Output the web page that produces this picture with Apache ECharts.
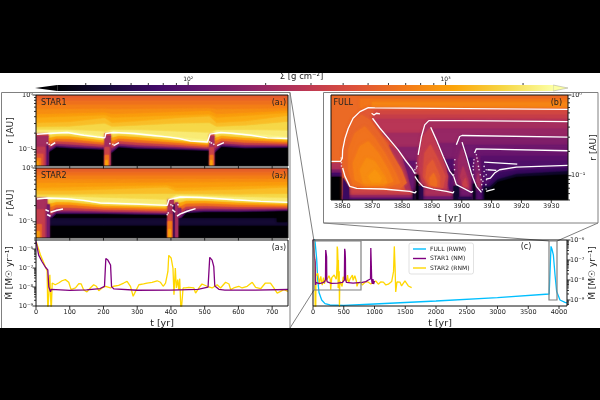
<!DOCTYPE html>
<html>
<head>
<meta charset="utf-8">
<style>html,body{margin:0;padding:0;background:#000}#c{width:600px;height:400px}</style>
<script src="https://cdn.jsdelivr.net/npm/echarts@6/dist/echarts.min.js"></script>
</head>
<body>
<div id="c"></div>
<script>
// Disc surface density maps and accretion histories. Radii are stored as
// depth = -log10(r / AU), accretion rates as log10(Mdot / Msun per yr).
const FLOOR = 1.30103;           // depth of r = 0.05 AU
const SIGMA_LO = 31, SIGMA_HI = 2620;

// ---- STAR1 surface density contours: [sigma, [[t, depth], ...]] ----
const a1Upper = [
  [560, [[0,.055],[747,.055]]],
  [640, [[0,.11],[747,.11]]],
  [740, [[0,.184],[747,.184]]],
  [860, [[0,.27],[204,.26],[225,.27],[514,.25],[535,.27],[747,.25]]],
  [1000,[[0,.36],[204,.33],[225,.36],[514,.30],[535,.36],[747,.30]]],
  [1150,[[0,.424],[204,.38],[225,.424],[514,.36],[535,.424],[747,.34]]],
  [1350,[[0,.52],[100,.505],[204,.43],[225,.52],[300,.49],[420,.43],[514,.40],[535,.52],[620,.49],[747,.39]]],
  [1700,[[0,.595],[100,.587],[204,.53],[225,.59],[300,.57],[420,.53],[514,.52],[535,.59],[620,.57],[747,.50]]],
  [2100,[[0,.645],[100,.645],[204,.68],[225,.645],[300,.65],[420,.68],[514,.70],[535,.65],[620,.65],[747,.66]]],
  [2400,[[0,.69],[100,.67],[204,.77],[225,.675],[300,.69],[420,.78],[514,.84],[535,.675],[620,.71],[747,.78]]]
];
const a1LowerTimes = [0,36,60,100,204,206,225,245,300,420,514,516,530,550,620,747];
const a1Lower = [
  [1700,[.74,.74,.72,.72,.81,.74,.73,.71,.74,.81,.88,.75,.74,.71,.75,.82]],
  [1100,[.795,.795,.764,.764,.844,.783,.788,.757,.78,.847,.902,.797,.792,.755,.792,.84]],
  [650, [.858,.858,.81,.814,.882,.834,.851,.805,.829,.884,.932,.849,.854,.801,.836,.873]],
  [350, [.923,.923,.858,.867,.923,.889,.919,.854,.88,.924,.963,.906,.921,.849,.882,.904]],
  [170, [.985,.985,.904,.917,.961,.943,.981,.902,.928,.961,.993,.959,.983,.895,.926,.935]],
  [80,  [1.031,1.031,.939,.958,.991,.982,1.031,.939,.967,.991,1.013,1.0,1.031,.93,.958,.958]],
  [31,  [1.068,1.068,.967,.985,1.013,1.013,1.068,.967,.994,1.013,1.031,1.031,1.068,.958,.985,.976]]
];
// outburst columns: [sigma, t0, t1, depth0, depth1]
const a1Columns = [
  [420,0,36,.709,.773],[215,0,36,.755,1.302],[95,32,36,.93,1.302],[300,0,26,.958,1.302],[450,0,21,1.087,1.302],[720,0,14,1.16,1.302],[1000,0,7,1.215,1.302],
  [420,204,221,.705,.76],[215,204,221,.75,1.302],[350,204,217,.958,1.302],[650,205,215,1.105,1.302],[1050,206,212,1.197,1.302],
  [420,515,528,.718,.77],[215,515,528,.76,1.302],[350,515,526,.958,1.302],[650,516,525,1.105,1.302],[1050,517,522,1.197,1.302]
];
const a1White = [[3,.718],[36,.705],[92,.687],[142,.737],[181,.768],[204,.786],[207,.705],[230,.687],[290,.705],[340,.737],[389,.768],[424,.797],[458,.842],[508,.86],[516,.718],[548,.687],[587,.705],[637,.737],[686,.786],[747,.797]];
const a1Dashes = [
  [[43,.927],[57,.872]], [[230,.927],[246,.872]], [[537,.927],[557,.872]]
];
const a1Dots = [[33,.878],[39,.903],[219,.89],[228,.903],[515,.859],[520,.88],[527,.903]];

// ---- STAR2 surface density contours ----
const a2Upper = [
  [560, [[0,.046],[747,.046]]],
  [640, [[0,.092],[747,.092]]],
  [740, [[0,.147],[747,.147]]],
  [860, [[0,.22],[747,.21]]],
  [1000,[[0,.29],[747,.27]]],
  [1150,[[0,.38],[389,.33],[415,.38],[747,.33]]],
  [1350,[[0,.43],[100,.43],[389,.37],[415,.44],[600,.41],[747,.37]]],
  [1700,[[0,.50],[100,.50],[389,.49],[415,.49],[600,.50],[747,.49]]],
  [2100,[[0,.54],[100,.54],[389,.60],[415,.515],[600,.545],[747,.565]]],
  [2400,[[0,.565],[92,.56],[191,.635],[389,.68],[394,.575],[428,.527],[488,.533],[587,.575],[666,.607],[747,.625]]]
];
const a2LowerTimes = [0,40,60,100,200,389,394,425,445,500,600,747];
const a2Lower = [
  [1700,[.604,.604,.595,.60,.676,.713,.619,.586,.573,.576,.613,.656]],
  [1100,[.669,.669,.641,.645,.707,.742,.663,.654,.619,.619,.65,.681]],
  [650, [.742,.742,.691,.694,.742,.773,.713,.731,.67,.663,.691,.711]],
  [350, [.821,.821,.746,.748,.781,.808,.766,.812,.726,.716,.733,.742]],
  [170, [.895,.895,.797,.797,.818,.84,.816,.889,.777,.764,.773,.772]],
  [80,  [.95,.95,.836,.836,.845,.866,.855,.948,.816,.801,.805,.794]],
  [31,  [.994,.994,.866,.866,.866,.884,.884,.994,.847,.829,.829,.81]],
  [46,  [.94,.94,.94,.94,.94,.94,.94,.94,.94,.94,.94,.94]],
  [31,  [1.087,1.087,1.087,1.087,1.087,1.087,1.087,1.087,1.087,1.087,1.087,1.087]]
];
const a2Columns = [
  [31,715,745,.83,.995],
  [230,0,33,.562,1.302],[130,33,40,.681,1.302],[320,0,25,.773,1.302],[550,0,16,1.05,1.302],[1000,2,10,1.179,1.302],
  [240,391,408,.589,1.302],[350,391,405,.866,1.302],[700,391,403,.994,1.302],[1050,393,399,1.142,1.302],
  [60,408,413,.681,1.302],[220,413,421,.645,1.302],[150,421,430,.75,.9]
];
const a2White = [[3,.577],[33,.558],[92,.571],[141,.602],[191,.65],[290,.669],[389,.694],[394,.589],[428,.54],[488,.547],[587,.589],[666,.62],[747,.639]];
const a2Dashes = [
  [[43,.822],[62,.785],[80,.761]], [[28,.773],[38,.804]], [[33,.865],[43,.896]],
  [[418,.896],[428,.853],[448,.804],[473,.755]], [[404,.773],[413,.822]]
];
const a2Dots = [[400,.681],[405,.70],[421,.681],[389,.865],[392,.835]];

// ---- FULL surface density layers, painted in order ----
const bLayers = [
  [590,[[3856.2,0],[3935.6,0],[3935.6,FLOOR],[3856.2,FLOOR]]],
  [680,[[3866,.05],[3935.6,.05],[3935.6,.16],[3866,.16]]],
  [790,[[3870,.09],[3935.6,.09],[3935.6,.16],[3870,.16]]],
  [260,[[3856.2,.844],[3860.3,.844],[3860.3,FLOOR],[3856.2,FLOOR]]],
  [160,[[3856.2,.926],[3860.3,.926],[3860.3,FLOOR],[3856.2,FLOOR]]],
  [80, [[3856.2,.967],[3860.3,.967],[3860.3,FLOOR],[3856.2,FLOOR]]],
  [31, [[3856.2,1.016],[3860.3,1.016],[3860.3,FLOOR],[3856.2,FLOOR]]],
  [480,[[3860,.782],[3860.1,.679],[3860.9,.535],[3862,.412],[3863.6,.288],[3865.9,.206],[3868.7,.156],[3870.9,.16],[3890.4,.165],[3935.6,.177],[3935.6,FLOOR],[3860,FLOOR]]],
  // wedge right of the first cooling front
  [390,[[3870.9,.193],[3935.6,.193],[3935.6,FLOOR],[3884.8,FLOOR],[3884.3,.975],[3881,.802],[3878.7,.679],[3875.9,.556],[3872.6,.412],[3870.1,.288]]],
  [330,[[3870.5,.247],[3935.6,.247],[3935.6,FLOOR],[3884.8,FLOOR],[3884.3,.975],[3881,.802],[3878.7,.679],[3875.9,.556],[3872.6,.412],[3870.1,.288]]],
  [275,[[3871,.30],[3935.6,.30],[3935.6,FLOOR],[3884.8,FLOOR],[3884.3,.975],[3881,.802],[3878.7,.679],[3875.9,.556],[3872.6,.412]]],
  [215,[[3873.4,.473],[3935.6,.473],[3935.6,FLOOR],[3884.8,FLOOR],[3884.3,.975],[3881,.802],[3878.7,.679],[3875.9,.556]]],
  [160,[[3878,.65],[3935.6,.65],[3935.6,FLOOR],[3884.8,FLOOR],[3884.3,.975],[3881,.802],[3878.7,.679]]],
  [110,[[3881.2,.82],[3935.6,.82],[3935.6,FLOOR],[3884.8,FLOOR],[3884.3,.975]]],
  [60, [[3884.3,.975],[3935.6,.99],[3935.6,FLOOR],[3884.8,FLOOR]]],
  // first hot region
  [250,[[3875.7,.617],[3879.3,.72],[3884.3,.975],[3884.6,1.193],[3881.5,1.193],[3878.7,.926]]],
  [120,[[3880.3,.79],[3884.3,.975],[3884.6,1.193],[3883.4,1.193],[3881.9,.967]]],
  [560,[[3860.9,.535],[3863.6,.309],[3866.4,.247],[3869.2,.309],[3873.1,.514],[3876.5,.72],[3879.8,.926],[3881.5,1.091],[3879.3,1.152],[3868.1,1.165],[3862.5,1.14],[3860.9,1.008],[3860.1,.844]]],
  [650,[[3862,.679],[3864.2,.473],[3867.5,.391],[3870.9,.535],[3874.2,.72],[3877.6,.947],[3879.3,1.091],[3874.8,1.14],[3868.1,1.14],[3863.6,1.111],[3862,.926]]],
  [750,[[3863.6,.844],[3865.9,.638],[3868.7,.576],[3872,.72],[3875.3,.926],[3877,1.07],[3873.7,1.123],[3867.5,1.123],[3864.2,1.049]]],
  [840,[[3865.9,.926],[3868.1,.782],[3870.9,.823],[3874.2,1.008],[3875,1.091],[3870.9,1.111],[3867,1.091]]],
  [920,[[3868.7,1.008],[3870.9,.926],[3873.1,1.029],[3872.6,1.082],[3869.8,1.082]]],
  [350,[[3862.5,1.175],[3884.6,1.2],[3884.6,FLOOR],[3862.5,FLOOR]]],
  [200,[[3860.3,1.245],[3884.6,1.245],[3884.6,FLOOR],[3860.3,FLOOR]]],
  [100,[[3860.3,1.275],[3884.6,1.275],[3884.6,FLOOR],[3860.3,FLOOR]]],
  [70, [[3860.3,1.03],[3862.2,1.15],[3862.2,FLOOR],[3860.3,FLOOR]]],
  [45, [[3883.7,1.19],[3885.4,1.19],[3885.4,FLOOR],[3883.7,FLOOR]]],
  // second burst
  [225,[[3885.4,.741],[3886.5,.514],[3887.6,.37],[3889,.317],[3901.6,.317],[3935.6,.329],[3935.6,FLOOR],[3884.8,FLOOR],[3884.8,.905]]],
  [190,[[3890.4,.42],[3935.6,.42],[3935.6,FLOOR],[3897.3,FLOOR],[3897.3,1.008],[3896,.947],[3893.8,.761],[3891.5,.556]]],
  [145,[[3892.2,.6],[3935.6,.6],[3935.6,FLOOR],[3897.3,FLOOR],[3897.3,1.008],[3896,.947],[3893.8,.761]]],
  [90, [[3893.8,.8],[3935.6,.8],[3935.6,FLOOR],[3897.3,FLOOR],[3897.3,1.008],[3895,.85]]],
  [40, [[3896,.947],[3935.6,.96],[3935.6,FLOOR],[3897.3,FLOOR],[3897.3,1.008]]],
  [100,[[3895.4,.885],[3897.3,1.008],[3897.3,1.214],[3896,1.193],[3894.9,1.008]]],
  [300,[[3887,.514],[3889.3,.412],[3891,.576],[3893.7,.802],[3895.4,1.008],[3894.9,1.165],[3887.6,1.132],[3885.9,1.008],[3885.7,.802]]],
  [400,[[3887.6,.72],[3889.5,.617],[3892.1,.802],[3894.5,1.008],[3893.7,1.152],[3888.7,1.132],[3887,1.008]]],
  [490,[[3888.4,.885],[3890.2,.802],[3892.6,1.008],[3892.6,1.14],[3889.3,1.123],[3887.9,1.029]]],
  [620,[[3889.3,1.029],[3890.6,.967],[3891.7,1.07],[3891.5,1.132],[3889.5,1.111]]],
  [240,[[3886.5,1.2],[3897.3,1.2],[3897.3,FLOOR],[3886.5,FLOOR]]],
  [120,[[3886.5,1.26],[3897.3,1.26],[3897.3,FLOOR],[3886.5,FLOOR]]],
  [60, [[3884.8,1.13],[3887,1.13],[3887,FLOOR],[3884.8,FLOOR]]],
  [35, [[3884.8,.99],[3885.4,.99],[3885.4,FLOOR],[3884.8,FLOOR]]],
  // third burst
  [150,[[3897.6,.926],[3897.6,.802],[3898.2,.617],[3899.3,.514],[3900.1,.502],[3935.6,.523],[3935.6,FLOOR],[3897.3,FLOOR]]],
  [125,[[3900.6,.62],[3935.6,.62],[3935.6,FLOOR],[3903.8,FLOOR],[3903.8,1.029],[3903.2,.967],[3901.6,.761]]],
  [85, [[3901.4,.78],[3935.6,.78],[3935.6,FLOOR],[3903.8,FLOOR],[3903.8,1.029],[3903.2,.967]]],
  [45, [[3903.2,.967],[3935.6,.97],[3935.6,FLOOR],[3903.8,FLOOR],[3903.8,1.029]]],
  [190,[[3898.8,.802],[3900.1,.658],[3901.6,.823],[3903,1.008],[3903.2,1.181],[3900.4,1.152],[3898.8,1.091]]],
  [260,[[3899.5,1.008],[3900.4,.885],[3902.1,1.049],[3902.3,1.165],[3900.4,1.132]]],
  [340,[[3900.2,1.111],[3901.2,1.029],[3901.9,1.132],[3901,1.14]]],
  [130,[[3899,1.19],[3903.8,1.19],[3903.8,FLOOR],[3899,FLOOR]]],
  [45, [[3897.3,1.13],[3899,1.13],[3899,FLOOR],[3897.3,FLOOR]]],
  [60, [[3899,1.265],[3903.8,1.265],[3903.8,FLOOR],[3899,FLOOR]]],
  // fourth burst and the quiescent tail
  [118,[[3903.8,.967],[3904,.802],[3904.3,.72],[3904.9,.667],[3935.6,.691],[3935.6,FLOOR],[3903.6,FLOOR]]],
  [100,[[3906.5,.76],[3935.6,.76],[3935.6,FLOOR],[3906.5,FLOOR]]],
  [88, [[3907,.82],[3935.6,.82],[3935.6,FLOOR],[3907,FLOOR]]],
  [150,[[3904.6,.926],[3905.1,.761],[3906,.926],[3906.9,1.173],[3904.9,1.152]]],
  [220,[[3904.9,1.091],[3905.5,.967],[3906.3,1.132],[3905.5,1.14]]],
  [90, [[3904.5,1.2],[3907,1.2],[3907,FLOOR],[3904.5,FLOOR]]],
  [40, [[3903.8,1.1],[3904.5,1.1],[3904.5,FLOOR],[3903.8,FLOOR]]],
  [70, [[3907,1.111],[3908.8,1.111],[3911,1.0],[3912.7,.967],[3918.3,.934],[3935.6,.905],[3935.6,FLOOR],[3907,FLOOR]]],
  [45, [[3907.5,1.14],[3909.4,1.14],[3912.1,1.049],[3918.3,.984],[3935.6,.947],[3935.6,FLOOR],[3907.5,FLOOR]]],
  [31, [[3907.8,1.181],[3909.4,1.181],[3912.1,1.082],[3918.3,1.02],[3935.6,.988],[3935.6,FLOOR],[3907.8,FLOOR]]]
];
const bFronts = [
  [[3856.2,.823],[3859.4,.823],[3860,.782],[3860.1,.679],[3860.9,.535],[3862,.412],[3863.6,.288],[3865.9,.206],[3868.7,.156],[3870.9,.16],[3890.4,.165],[3935.6,.177]],
  [[3870.1,.288],[3872.6,.412],[3875.9,.556],[3878.7,.679],[3881,.802],[3883.2,.905],[3884.3,.975]],
  [[3869.8,.226],[3870.6,.247],[3871.4,.226],[3872.6,.235]],
  [[3860.1,.905],[3860.9,1.008],[3862.5,1.132],[3864.8,1.156],[3873.7,1.165],[3882.6,1.193],[3884.3,1.214],[3884.8,1.193]],
  [[3885.4,.741],[3886.5,.514],[3887.6,.37],[3889,.317],[3901.6,.317],[3935.6,.329]],
  [[3889.6,.399],[3891.5,.556],[3893.8,.761],[3896,.947],[3897.3,1.008]],
  [[3884.3,1.008],[3885.4,1.07],[3887,1.132],[3890.4,1.165],[3894.9,1.193],[3897.1,1.214],[3897.4,1.193]],
  [[3898.2,.617],[3899.3,.514],[3900.1,.502],[3935.6,.523]],
  [[3900.1,.584],[3901.6,.761],[3903.2,.967],[3903.8,1.029]],
  [[3897.3,1.008],[3898.2,1.111],[3900.4,1.152],[3903.2,1.206],[3903.8,1.193]],
  [[3904.3,.72],[3904.9,.667],[3935.6,.691]],
  [[3903.8,1.029],[3904.9,1.132],[3906.6,1.206]],
  [[3907.5,.831],[3918.6,.856]],
  [[3908.6,.926],[3911.6,.934]],
  [[3908.2,1.041],[3909.6,1.029],[3911,.967],[3912.7,.926],[3918.3,.893],[3935.6,.872]],
  [[3908.2,1.193],[3909.4,1.181],[3911,1.165]]
];
const bDots = [
  [3859.6,.78],[3859.7,.84],[3859.7,.88],
  [3884.8,.844],[3884.8,.905],[3884.3,.926],[3885,.885],[3884.6,.967],
  [3897.6,.926],[3897.5,.864],[3897.7,.802],[3897.3,.988],
  [3903.8,.885],[3904,.844],[3904.1,.802],[3903.9,.926],[3903.8,.988],
  [3904.9,.741],[3905.1,.782],[3905.4,.823],[3905.6,.885],[3905.8,.926],[3906.2,.988],[3906.5,1.049],[3906.7,1.111],[3906.9,1.173],
  [3907.5,.885],[3907.5,.947],[3907.4,1.008],[3907.1,1.07],
  [3908.2,.926],[3908.2,.988],[3908.3,1.049],[3908.1,1.111],[3908.2,1.165]
];

// ---- accretion histories: [t, log10 Mdot] ----
const star1Early = [[0,-5.6],[8,-6.32],[18,-6.67],[28,-6.96],[35,-7.1],[38,-8],[43,-8.25],[45,-8.12],[50,-8.16],[100,-8.18],[150,-8.15],[190,-8.08],[203,-7.97],[207,-6.5],[213,-6.58],[221,-6.84],[224,-7.98],[231,-8.1],[235,-8.16],[300,-8.17],[400,-8.16],[480,-8.12],[510,-8],[512,-8],[515,-6.44],[522,-6.58],[527,-6.93],[530,-7.95],[542,-8.12],[560,-8.16],[650,-8.16],[747,-8.13]];
const star1Late = [[800,-8.12],[860,-8.08],[900,-8],[935,-7.95],[940,-6.4],[947,-6.5],[955,-8.05],[965,-8.2],[975,-7.95],[985,-8.2],[1000,-8.05]];
const star2Early = [[1,-5.63],[13,-6.3],[33,-7.16],[35,-9.4],[37,-9.4],[41,-7.35],[45,-9.4],[46.5,-9.4],[48,-7.79],[57,-7.88],[67,-7.79],[77,-7.67],[87,-7.61],[97,-7.75],[104,-8.14],[117,-8.05],[127,-7.82],[134,-7.84],[141,-8.14],[151,-8.26],[161,-8.05],[171,-7.88],[179,-7.96],[186,-8.19],[196,-8.05],[206,-7.96],[211,-8.05],[221,-8.05],[230,-7.96],[245,-7.91],[260,-7.79],[270,-7.7],[280,-7.96],[288,-8.49],[295,-8.23],[305,-7.88],[319,-7.84],[329,-7.79],[344,-7.75],[359,-7.67],[369,-7.75],[377,-7.96],[384,-7.79],[389,-7.88],[391,-7.18],[393.5,-6.33],[400.5,-6.47],[406,-7],[409,-8.4],[413,-7],[416,-8.05],[420,-7.61],[423,-8.14],[426,-7.56],[430,-9.4],[435,-9.4],[436,-8.05],[443,-8.05],[453,-8.02],[468,-8.05],[473,-8.32],[483,-8.05],[492,-7.84],[507,-7.96],[522,-8.05],[537,-7.88],[547,-8.05],[562,-7.75],[572,-7.84],[577,-8.14],[586,-8.05],[601,-7.96],[611,-8.05],[626,-7.96],[641,-7.75],[651,-8.02],[666,-8.09],[680,-7.79],[695,-7.79],[705,-8.05],[715,-8.32],[725,-8.23],[735,-8.14],[747,-8.23]];
const star2Late = [[775,-8.1],[800,-8.25],[818,-8.21],[860,-8.08],[900,-8.11],[940,-8.2],[981,-8.11],[1020,-8.05],[1062,-8.21],[1100,-8.1],[1144,-8.11],[1185,-8.25],[1225,-8.21],[1279,-8.08],[1310,-7.57],[1322,-6.32],[1335,-7.4],[1345,-8.6],[1365,-8.1],[1415,-8.11],[1440,-8.3],[1469,-8.24],[1495,-8.05],[1523,-8.11],[1550,-8.3],[1577,-8.21],[1604,-8.38]];
const fullHistory = [[8,-5.9],[32,-6.03],[60,-6.95],[76,-7.96],[98,-8.63],[141,-9],[195,-9.18],[276,-9.25],[500,-9.27],[1000,-9.2],[2000,-9.05],[3000,-8.88],[3840,-8.7],[3866,-8.68],[3870,-6.32],[3885,-6.45],[3908,-6.74],[3935,-7.74],[3962,-8.58],[4016,-9],[4098,-9.12],[4130,-9.15]];

// ---- axis ticks ----
const rMajor = [.1,1], rMinor = [.05,.06,.07,.08,.09,.2,.3,.4,.5,.6,.7,.8,.9];
const mMajor = [1e-9,1e-8,1e-7,1e-6];
const mMinor = [6e-10,7e-10,8e-10,9e-10,2e-9,3e-9,4e-9,5e-9,6e-9,7e-9,8e-9,9e-9,2e-8,3e-8,4e-8,5e-8,6e-8,7e-8,8e-8,9e-8,2e-7,3e-7,4e-7,5e-7,6e-7,7e-7,8e-7,9e-7,2e-6,3e-6];
const xTicksA = [0,100,200,300,400,500,600,700];
const xTicksB = [3860,3870,3880,3890,3900,3910,3920,3930];
const xTicksC = [0,500,1000,1500,2000,2500,3000,3500,4000];
const sigmaMajor = [100,1000];
const sigmaMinor = [40,50,60,70,80,90,200,300,400,500,600,700,800,900,2000];

// ---- inferno colour map ----
const inferno = ['#000004','#160b39','#420a68','#6a176e','#932667','#bc3754','#dd513a','#f37819','#fca50a','#f6d746','#fcffa4'];
function sigmaColor(s){
  const v = Math.log(s/SIGMA_LO)/Math.log(SIGMA_HI/SIGMA_LO);
  return echarts.color.lerp(Math.min(1,Math.max(0,v)), inferno);
}
const depthToR = d => Math.pow(10,-d);

function under(pts){
  return pts.concat([[pts[pts.length-1][0],FLOOR],[pts[0][0],FLOOR]]);
}
function box(c){ return [c[0],[[c[1],c[3]],[c[2],c[3]],[c[2],c[4]],[c[1],c[4]]]]; }
function panelLayers(base, upper, lowerTimes, lower, columns){
  const full = [[base,[[0,0],[747,0],[747,FLOOR],[0,FLOOR]]]];
  upper.forEach(l=>full.push([l[0],under(l[1])]));
  lower.forEach(l=>full.push([l[0],under(lowerTimes.map((t,i)=>[t,l[1][i]]))]));
  columns.forEach(c=>full.push(box(c)));
  return full;
}

// soft polygon edges turn the stepped contour layers into a continuous field
function fieldSeries(g, layers, soft){
  return {
    type:'custom', coordinateSystem:'cartesian2d', xAxisIndex:g, yAxisIndex:g, clip:true, silent:true, z:2,
    data: layers.map((l,i)=>[l[1][0][0],depthToR(l[1][0][1]),i]),
    encode:{x:0,y:1},
    renderItem(params,api){
      const layer = layers[api.value(2)], c = sigmaColor(layer[0]);
      return {type:'polygon',shape:{points:layer[1].map(p=>api.coord([p[0],depthToR(p[1])]))},
        style:{fill:c,stroke:c,lineWidth:0.4,shadowBlur:soft,shadowColor:c}};
    }
  };
}
function whiteLine(g, pts, width){
  return {type:'line',xAxisIndex:g,yAxisIndex:g,silent:true,z:5,symbol:'none',clip:true,
    lineStyle:{color:'#fff',width:width||1.3},data:pts.map(p=>[p[0],depthToR(p[1])])};
}
function whiteDots(g, pts, size){
  return {type:'scatter',xAxisIndex:g,yAxisIndex:g,silent:true,z:5,symbolSize:size||1.5,clip:true,
    itemStyle:{color:'#fff'},data:pts.map(p=>[p[0],depthToR(p[1])])};
}
function rateLine(g, name, color, pts, width, z){
  return {type:'line',name,xAxisIndex:g,yAxisIndex:g,silent:true,z,symbol:'none',clip:true,
    lineStyle:{color,width:width},itemStyle:{color},data:pts.map(p=>[p[0],Math.pow(10,p[1])])};
}
// ticks are drawn through the axis scales so log axes get true minor positions
function tickSeries(g, dir, values, edge, sign, len){
  return {
    type:'custom', coordinateSystem:'cartesian2d', xAxisIndex:g, yAxisIndex:g, clip:false, silent:true, z:8,
    data: values.map(v=>dir==='y'?[edge,v]:[v,edge]), encode:{x:0,y:1},
    renderItem(params,api){
      const p = api.coord([api.value(0),api.value(1)]);
      const q = dir==='y'?[p[0]+sign*len,p[1]]:[p[0],p[1]+sign*len];
      return {type:'line',shape:{x1:p[0],y1:p[1],x2:q[0],y2:q[1]},style:{stroke:'#000',lineWidth:0.8}};
    }
  };
}

const sup = n => String(n).replace('-','⁻').replace(/\d/g,d=>'⁰¹²³⁴⁵⁶⁷⁸⁹'[d]);
function decadeLabel(v){
  const e = Math.log10(v), r = Math.round(e);
  return Math.abs(e-r)<1e-6 ? '10'+sup(r) : '';
}
const FONT = 'DejaVu Sans';
const tickLabel = {fontFamily:FONT,fontSize:6.5,color:'#222',margin:3,showMinLabel:true,showMaxLabel:true};
const panelGrids = [
  {left:36,top:95,width:252,height:71},
  {left:36,top:168,width:252,height:70},
  {left:36,top:240,width:252,height:66},
  {left:331,top:95,width:237,height:105},
  {left:313,top:240,width:254,height:66},
  {left:35,top:85,width:533,height:6}
];
function xAxisFor(g,min,max,opts){
  return Object.assign({type:'value',gridIndex:g,min,max,axisLine:{show:false},axisTick:{show:false},splitLine:{show:false},
    axisLabel:{show:false}},opts||{});
}
function yLog(g,min,max,pos,name,gap){
  return {type:'log',logBase:10,gridIndex:g,min,max,position:pos,axisLine:{show:false},axisTick:{show:false},splitLine:{show:false},
    axisLabel:Object.assign({},tickLabel,{formatter:decadeLabel}),
    name,nameLocation:'middle',nameRotate:90,nameGap:gap,nameMoveOverlap:false,nameTextStyle:{fontFamily:FONT,fontSize:9,color:'#222'}};
}
const xName = {nameLocation:'middle',nameMoveOverlap:false,nameTextStyle:{fontFamily:FONT,fontSize:9.5,color:'#222'}};
const keepTens = v => (Math.abs(v%10)<1e-6 && v>3856.5 && v<3935) ? String(Math.round(v)) : '';
const keepHundreds = v => (v%100===0 && v<=700) ? String(v) : '';

const xAxes = [
  xAxisFor(0,0,747),
  xAxisFor(1,0,747),
  xAxisFor(2,0,747,Object.assign({interval:100,name:'t [yr]',nameGap:13,axisLabel:Object.assign({},tickLabel,{show:true,formatter:keepHundreds,showMaxLabel:false})},xName)),
  xAxisFor(3,3856.2,3935.6,Object.assign({splitNumber:8,name:'t [yr]',nameGap:14,axisLabel:Object.assign({},tickLabel,{show:true,formatter:keepTens})},xName)),
  xAxisFor(4,0,4130,Object.assign({interval:500,name:'t [yr]',nameGap:13,axisLabel:Object.assign({},tickLabel,{show:true,formatter:v=>v<=4000?String(v):'',showMaxLabel:false})},xName)),
  {type:'log',logBase:10,gridIndex:5,min:25.4,max:2990,position:'top',axisLine:{show:false},axisTick:{show:false},splitLine:{show:false},
    axisLabel:Object.assign({},tickLabel,{margin:3,fontSize:6,formatter:decadeLabel}),
    name:'Σ [g cm⁻²]',nameLocation:'middle',nameGap:4,nameMoveOverlap:false,nameTextStyle:{fontFamily:FONT,fontSize:8.5,color:'#222'}}
];
const yAxes = [
  yLog(0,.05,1,'left','r [AU]',21),
  yLog(1,.05,1,'left','r [AU]',21),
  yLog(2,1e-9,3e-6,'left','Ṁ [M☉ yr⁻¹]',22),
  yLog(3,.05,1,'right','r [AU]',21),
  yLog(4,5e-10,1e-6,'right','Ṁ [M☉ yr⁻¹]',21),
  {type:'value',gridIndex:5,min:0,max:1,show:false}
];

const series = [
  fieldSeries(0,panelLayers(500,a1Upper,a1LowerTimes,a1Lower,a1Columns),2),
  whiteLine(0,a1White,1.4), whiteDots(0,a1Dots,1.8),
  ...a1Dashes.map(d=>whiteLine(0,d,1.5)),
  fieldSeries(1,panelLayers(500,a2Upper,a2LowerTimes,a2Lower,a2Columns),2),
  whiteLine(1,a2White,1.4), whiteDots(1,a2Dots,1.8),
  ...a2Dashes.map(d=>whiteLine(1,d,1.5)),
  rateLine(2,'STAR2 history','#ffd700',star2Early,1.3,3),
  rateLine(2,'STAR1 history','#800080',star1Early,1.3,4),
  fieldSeries(3,bLayers,3),
  ...bFronts.map(f=>whiteLine(3,f,1.3)),
  whiteDots(3,bDots,1.6),
  rateLine(4,'FULL (RWM)','#00bfff',fullHistory,1.3,3),
  rateLine(4,'STAR2 (RNM)','#ffd700',star2Early.concat(star2Late),1.3,4),
  rateLine(4,'STAR1 (NM)','#800080',star1Early.concat(star1Late),1.3,5),
  // colour bar with extension arrows
  {type:'custom',coordinateSystem:'cartesian2d',xAxisIndex:5,yAxisIndex:5,silent:true,clip:false,z:3,
    data:[[SIGMA_LO,0]],encode:{x:0,y:1},
    renderItem(params,api){
      const tl=api.coord([SIGMA_LO,1]),bl=api.coord([SIGMA_LO,0]),tr=api.coord([SIGMA_HI,1]),br=api.coord([SIGMA_HI,0]);
      const tipL=api.coord([25.4,.5]),tipR=api.coord([2990,.5]);
      const stops=inferno.map((c,i)=>({offset:i/10,color:c}));
      return {type:'group',children:[
        {type:'polygon',shape:{points:[tipL,tl,bl]},style:{fill:inferno[0]}},
        {type:'polygon',shape:{points:[tipR,tr,br]},style:{fill:inferno[10],stroke:'#888',lineWidth:0.4}},
        {type:'rect',shape:{x:tl[0],y:tl[1],width:tr[0]-tl[0],height:bl[1]-tl[1]},
          style:{fill:new echarts.graphic.LinearGradient(0,0,1,0,stops)}}
      ]};
    }
  },
  tickSeries(5,'x',sigmaMajor,1,-1,3.5), tickSeries(5,'x',sigmaMinor,1,-1,2),
  tickSeries(0,'y',rMajor,0,-1,3.5), tickSeries(0,'y',rMinor,0,-1,2), tickSeries(0,'x',xTicksA,.05,1,2.5),
  tickSeries(1,'y',rMajor,0,-1,3.5), tickSeries(1,'y',rMinor,0,-1,2), tickSeries(1,'x',xTicksA,.05,1,2.5),
  tickSeries(2,'y',mMajor,0,-1,3.5), tickSeries(2,'y',mMinor.filter(v=>v>=1e-9&&v<=3e-6),0,-1,2), tickSeries(2,'x',xTicksA,1e-9,1,3),
  tickSeries(3,'y',rMajor,3935.6,1,3.5), tickSeries(3,'y',rMinor,3935.6,1,2), tickSeries(3,'x',xTicksB,.05,1,3),
  tickSeries(4,'y',mMajor,4130,1,3.5), tickSeries(4,'y',mMinor.filter(v=>v<=1e-6),4130,1,2), tickSeries(4,'x',xTicksC,5e-10,1,3)
];

// frames, zoom connectors and panel tags
const gray = '#808080';
const frame = (x,y,w,h,stroke,lw) => ({type:'rect',z:60,silent:true,shape:{x,y,width:w,height:h},style:{fill:'none',stroke,lineWidth:lw}});
const link = (x1,y1,x2,y2) => ({type:'line',z:60,silent:true,shape:{x1,y1,x2,y2},style:{stroke:gray,lineWidth:1}});
const tag = (text,x,y,align) => ({type:'text',z:70,silent:true,x,y,style:{text,fontFamily:FONT,fontSize:8,fill:'#222',textAlign:align||'left',textVerticalAlign:'middle'}});
const elements = [
  frame(1.5,92.5,288.5,240,gray,1),
  frame(323.5,92.5,274.5,130.5,gray,1),
  link(290,92.5,314,241), link(290,328,314,290),
  link(323.5,223,549,241), link(598,223,557,241),
  ...panelGrids.slice(0,5).map(g=>frame(g.left,g.top,g.width,g.height,'#111',1)),
  frame(314,241,47,49,gray,1.2),
  frame(549,241,8,59,gray,1.2),
  tag('STAR1',41,103), tag('(a₁)',286,103,'right'),
  tag('STAR2',41,175.5), tag('(a₂)',286,175.5,'right'),
  tag('(a₃)',286,248,'right'),
  tag('FULL',333.5,103), tag('(b)',562,103,'right'),
  tag('(c)',526,247,'center'),
  {type:'rect',z:90,silent:true,shape:{x:0,y:0,width:600,height:73},style:{fill:'#000'}},
  {type:'rect',z:90,silent:true,shape:{x:0,y:328,width:600,height:72},style:{fill:'#000'}}
];

const chart = echarts.init(document.getElementById('c'),null,{renderer:'canvas',width:600,height:400});
chart.setOption({
  animation:false,
  backgroundColor:'#fff',
  textStyle:{fontFamily:FONT},
  grid:panelGrids,
  xAxis:xAxes,
  yAxis:yAxes,
  series,
  legend:{
    data:['FULL (RWM)','STAR1 (NM)','STAR2 (RNM)'],
    left:409,top:243,orient:'vertical',icon:'rect',itemWidth:13,itemHeight:1.4,itemGap:3.5,padding:[3,4,3,4],
    selectedMode:false,backgroundColor:'#fff',borderColor:'#ccc',borderWidth:0.6,borderRadius:2,
    textStyle:{fontFamily:FONT,fontSize:6,color:'#222',padding:[0,0,0,-1]}
  },
  graphic:{elements}
});
</script>
</body>
</html>
